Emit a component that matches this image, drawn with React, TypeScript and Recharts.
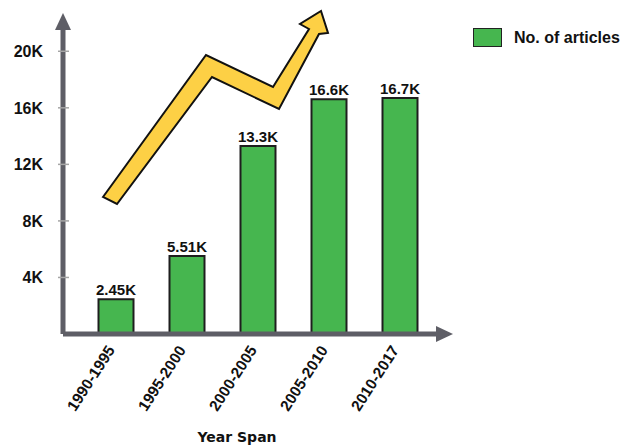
import React from "react";
import { BarChart, Bar, XAxis, YAxis, LabelList, Legend } from "recharts";

const spans = ["1990-1995", "1995-2000", "2000-2005", "2005-2010", "2010-2017"];
const articleCounts = [2450, 5510, 13300, 16600, 16700];
const yTicks = [4000, 8000, 12000, 16000, 20000];

const data = spans.map((span, i) => ({ span, articles: articleCounts[i] }));

const FONT = "'Liberation Sans', Arial, sans-serif";
const AXIS_COLOR = "#5e5e66";
const BAR_GREEN = "#46b64f";

const formatK = (v: number) =>
  v >= 10000 ? `${(v / 1000).toFixed(1)}K` : `${(v / 1000).toFixed(2)}K`;

// rotated year-span labels under the x axis
function SpanTick({ x, y, payload }: any) {
  return (
    <g transform={`translate(${x - 5},${y + 13})`}>
      <text
        transform="rotate(-57)"
        textAnchor="end"
        dy="0.35em"
        fontSize={15.5}
        fontWeight={700}
        fontFamily={FONT}
        fill="#111"
      >
        {payload.value}
      </text>
    </g>
  );
}

// y tick: label plus a short light mark crossing the axis
function CountTick({ x, y, payload }: any) {
  return (
    <g>
      <line x1={58} x2={69} y1={y} y2={y} stroke="#a5a5a5" strokeWidth={1.5} />
      <text
        x={x}
        y={y}
        textAnchor="end"
        dy="0.36em"
        fontSize={16}
        fontWeight={700}
        fontFamily={FONT}
        fill="#111"
      >
        {`${payload.value / 1000}K`}
      </text>
    </g>
  );
}

function LegendBox() {
  return (
    <div style={{ display: "flex", alignItems: "center", fontFamily: FONT }}>
      <div
        style={{
          width: 27,
          height: 17,
          background: BAR_GREEN,
          border: "1.5px solid #222",
          marginRight: 12,
        }}
      />
      <span style={{ fontSize: 16, fontWeight: 700, color: "#111", whiteSpace: "nowrap" }}>
        No. of articles
      </span>
    </div>
  );
}

export default function App() {
  return (
    <div
      style={{
        position: "absolute",
        left: 0,
        top: 0,
        width: 622,
        height: 445,
        background: "#fff",
        overflow: "hidden",
      }}
    >
      <BarChart
        width={622}
        height={445}
        data={data}
        margin={{ top: 23, right: 182, left: 0, bottom: 0 }}
        barCategoryGap={0}
      >
        <XAxis
          dataKey="span"
          height={111}
          padding={{ left: 17.5, right: 4.5 }}
          axisLine={{ stroke: AXIS_COLOR, strokeWidth: 5 }}
          tickLine={false}
          tickSize={0}
          tickMargin={0}
          interval={0}
          tick={<SpanTick />}
        />
        <YAxis
          width={63}
          domain={[0, 22000]}
          ticks={yTicks}
          allowDataOverflow
          axisLine={{ stroke: AXIS_COLOR, strokeWidth: 5 }}
          tickLine={false}
          tickSize={6}
          tickMargin={14}
          tick={<CountTick />}
        />
        <Legend
          layout="vertical"
          align="center"
          verticalAlign="middle"
          wrapperStyle={{ left: 473, top: 28, width: 150, height: 22 }}
          content={() => <LegendBox />}
        />
        <Bar
          dataKey="articles"
          name="No. of articles"
          fill={BAR_GREEN}
          stroke="#1e1e1e"
          strokeWidth={2}
          barSize={35}
          isAnimationActive={false}
        >
          <LabelList
            dataKey="articles"
            position="top"
            offset={4}
            formatter={(v: any) => formatK(Number(v))}
            style={{ fill: "#111", fontSize: 15, fontWeight: 700, fontFamily: FONT }}
          />
        </Bar>
      </BarChart>

      {/* decorations: axis arrowheads, trend arrow, axis title */}
      <svg
        width={622}
        height={445}
        style={{ position: "absolute", left: 0, top: 0, pointerEvents: "none" }}
      >
        <polygon points="63,13 71,30 55,30" fill={AXIS_COLOR} />
        <polygon points="453,334 436,326 436,342" fill={AXIS_COLOR} />
        <polygon
          points="103,197 206,55 273,87 309,29 300,24 321,11 328,33 319,34 279,109 212,77 117,204"
          fill="#fdd045"
          stroke="#111"
          strokeWidth={2}
          strokeLinejoin="miter"
        />
        <text
          x={237}
          y={437}
          textAnchor="middle"
          dominantBaseline="central"
          fontSize={14}
          fontWeight={700}
          fontFamily="'DejaVu Sans', sans-serif"
          fill="#111"
        >
          Year Span
        </text>
      </svg>
    </div>
  );
}
